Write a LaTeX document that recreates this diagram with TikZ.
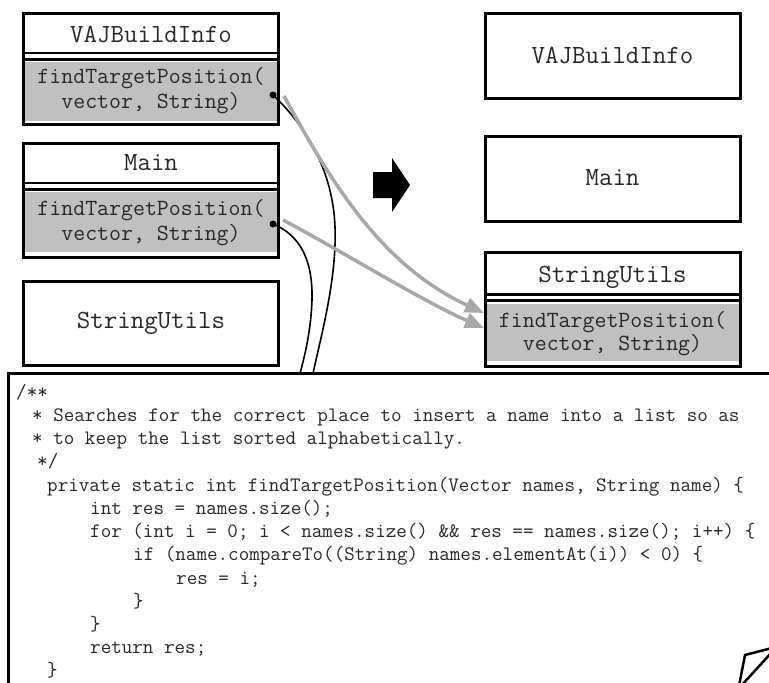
\documentclass[tikz,border=0pt]{standalone}
\usepackage{fontspec}
\usetikzlibrary{arrows.meta}
\definecolor{methgrey}{RGB}{192,192,192}
\definecolor{arrowgrey}{RGB}{168,168,168}
\definecolor{txt}{RGB}{40,40,40}
\tikzset{
  box/.style={draw, line width=3pt, inner sep=0pt, outer sep=0pt, anchor=north west},
  hdr/.style={font=\ttfamily\fontsize{26.2}{30}\selectfont, text=txt, anchor=base, inner sep=0pt},
  mth/.style={font=\ttfamily\fontsize{23.2}{27}\selectfont, text=txt, anchor=base, inner sep=0pt},
  codeline/.style={font=\ttfamily\fontsize{20.5}{24}\selectfont, text=txt, anchor=base west, inner sep=0pt},
  sepline/.style={line width=2.5pt},
  conn/.style={line width=1.6pt},
  mv/.style={draw=arrowgrey, line width=3.5pt, -{Triangle[length=19pt,width=15pt]}},
  dot/.style={circle, fill=black, inner sep=0pt, minimum size=7pt},
}
\begin{document}
\begin{tikzpicture}[x=1pt, y=-1pt]
\useasboundingbox (0,0) rectangle (769,683);
\clip (0,0) rectangle (769,683);
\fill[white] (0,0) rectangle (769,683);

% ---------- left column ----------
\fill[methgrey] (23.5,62) rectangle (278.5,120.5);
\node[box, minimum width=255pt, minimum height=110.5pt] (vajL) at (23.5,13.5) {};
\draw[sepline] (23.5,53) -- (278.5,53);
\draw[sepline] (23.5,59.5) -- (278.5,59.5);
\node[hdr] (vajLt) at (151,42) {VAJBuildInfo};
\node[mth] (vajLm1) at (151,83) {findTargetPosition(};
\node[mth] (vajLm2) at (151,108) {vector, String)};

\fill[methgrey] (23.5,192) rectangle (278.5,251.5);
\node[box, minimum width=255pt, minimum height=113.5pt] (mainL) at (23.5,143.5) {};
\draw[sepline] (23.5,183) -- (278.5,183);
\draw[sepline] (23.5,189.5) -- (278.5,189.5);
\node[hdr] (mainLt) at (151,170) {Main};
\node[mth] (mainLm1) at (151,215) {findTargetPosition(};
\node[mth] (mainLm2) at (151,240) {vector, String)};

\node[box, minimum width=255pt, minimum height=84pt] (suL) at (23.5,281) {};
\node[hdr] (suLt) at (151,328) {StringUtils};

% ---------- right column ----------
\node[box, minimum width=255pt, minimum height=84.5pt] (vajR) at (485,13.5) {};
\node[hdr] (vajRt) at (612.5,63) {VAJBuildInfo};

\node[box, minimum width=255pt, minimum height=85pt] (mainR) at (485,136.5) {};
\node[hdr] (mainRt) at (612.5,185) {Main};

\fill[methgrey] (485,303.5) rectangle (740,361);
\node[box, minimum width=255pt, minimum height=114pt] (suR) at (485,252) {};
\draw[sepline] (485,294.5) -- (740,294.5);
\draw[sepline] (485,300.5) -- (740,300.5);
\node[hdr] (suRt) at (612.5,282) {StringUtils};
\node[mth] (suRm1) at (612.5,327) {findTargetPosition(};
\node[mth] (suRm2) at (612.5,350) {vector, String)};

% ---------- block arrow ----------
\fill[black] (373,172) -- (392,172) -- (392,158) -- (410,185) -- (392,212) -- (392,198) -- (373,198) -- cycle;

% ---------- code box ----------
\node[box, minimum width=900pt, minimum height=400pt] (code) at (8.5,373.5) {};
\node[codeline] (l1)  at (16,398)  {/**};
\node[codeline] (l2)  at (32,421)  {* Searches for the correct place to insert a name into a list so as};
\node[codeline] (l3)  at (32,444)  {* to keep the list sorted alphabetically.};
\node[codeline] (l4)  at (37,467)  {*/};
\node[codeline] (l5)  at (47,491)  {private static int findTargetPosition(Vector names, String name) \{};
\node[codeline] (l6)  at (90,514)  {int res = names.size();};
\node[codeline] (l7)  at (90,537)  {for (int i = 0; i < names.size() \&\& res == names.size(); i++) \{};
\node[codeline] (l8)  at (133,560) {if (name.compareTo((String) names.elementAt(i)) < 0) \{};
\node[codeline] (l9)  at (176,584) {res = i;};
\node[codeline] (l10) at (133,607) {\}};
\node[codeline] (l11) at (90,630)  {\}};
\node[codeline] (l12) at (90,653)  {return res;};
\node[codeline] (l13) at (47,676)  {\}};

% ---------- connectors ----------
\node[dot] (d1) at (273,95) {};
\node[dot] (d2) at (273,224) {};
\coordinate (c1) at (313,373.5);
\coordinate (c2) at (300,373.5);
\draw[conn] (d1.center) .. controls (305,125) and (333,170) .. (335,227)
                        .. controls (337,280) and (320,340) .. (c1);
\draw[conn] (d2.center) .. controls (300,235) and (313,260) .. (312,300)
                        .. controls (311,330) and (305,355) .. (c2);

\coordinate (g1) at (284,96);
\coordinate (g2) at (283,220);
\coordinate (t1) at (484,313);
\coordinate (t2) at (484,328);
\draw[mv] (g1) .. controls (330,180) and (380,265) .. (t1);
\draw[mv] (g2) .. controls (340,250) and (420,300) .. (t2);

% ---------- corner icon ----------
\draw[line width=2.5pt] (739,686) -- (745,655) -- (772,648);
\draw[line width=2.5pt] (772,652) -- (741,686);
\end{tikzpicture}
\end{document}
